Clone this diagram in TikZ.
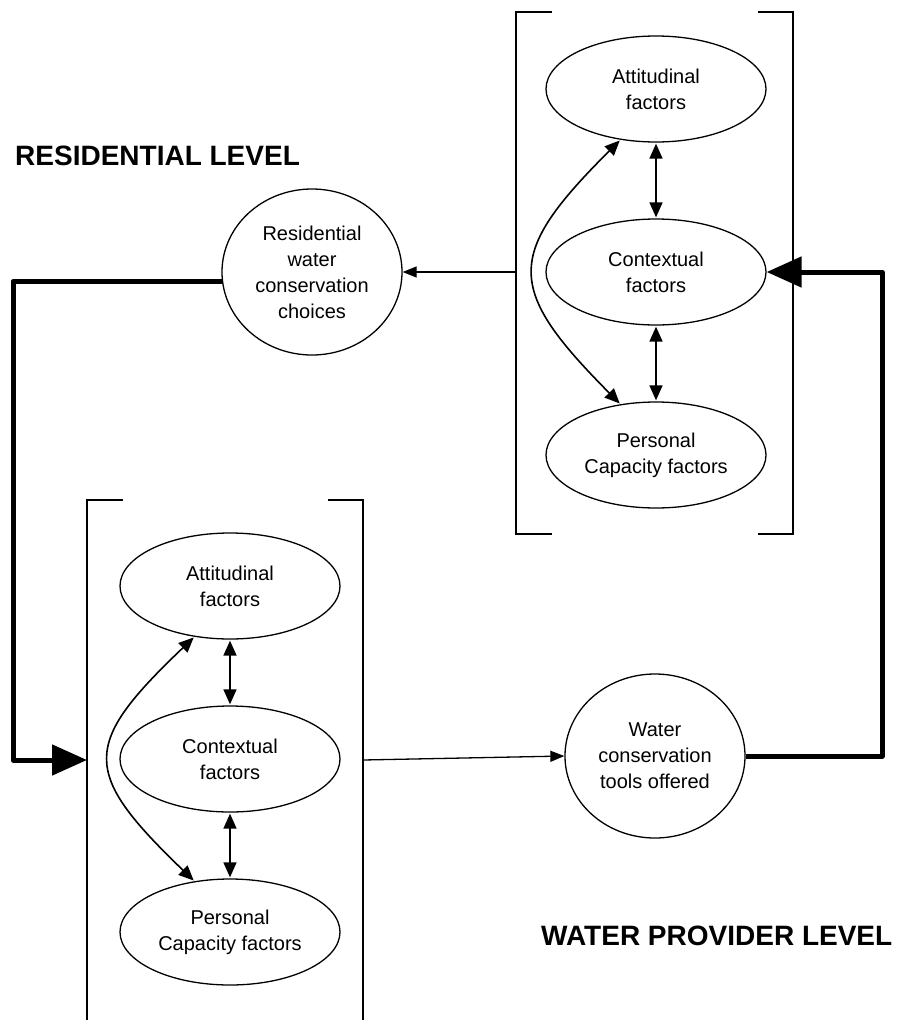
\documentclass[tikz,border=0pt]{standalone}
\usepackage{fontspec}
\setmainfont{Liberation Sans}
\usetikzlibrary{arrows.meta,shapes.geometric}
\tikzset{
  ell/.style={ellipse, draw, line width=1.3pt, minimum width=220pt, minimum height=106pt,
    inner sep=0pt, align=center, font=\fontsize{20}{26}\selectfont},
  circ/.style={ellipse, draw, line width=1.3pt, minimum width=180pt, minimum height=166pt,
    inner sep=0pt, align=center, font=\fontsize{20}{26}\selectfont},
  thinarrow/.style={line width=1.3pt, -{Triangle[length=14pt,width=11pt]}},
  dblarrow/.style={line width=1.6pt, {Triangle[length=15pt,width=13pt]}-{Triangle[length=15pt,width=13pt]}, shorten <=1pt, shorten >=1pt},
  bigarrow/.style={line width=5pt, line join=round, -{Triangle[length=35pt,width=30pt]}},
  bracketline/.style={line width=1.4pt},
  title/.style={font=\fontsize{28}{32}\selectfont\bfseries, inner sep=0pt, anchor=base west}
}
\begin{document}
\begin{tikzpicture}[x=1pt,y=-1pt]
\useasboundingbox (0,0) rectangle (899,1020);
% top bracket
\draw[bracketline] (552,12) -- (516,12) -- (516,534) -- (552,534);
\draw[bracketline] (758,12) -- (793,12) -- (793,534) -- (758,534);
% bottom bracket
\draw[bracketline] (123,500) -- (87,500) -- (87,1022);
\draw[bracketline] (328,500) -- (363,500) -- (363,1022);
% top group
\node[ell] (A1) at (656,89) {Attitudinal\\factors};
\node[ell] (C1) at (656,272) {Contextual\\factors};
\node[ell] (P1) at (656,455) {Personal\\Capacity factors};
% bottom group
\node[ell] (A2) at (230,586) {Attitudinal\\factors};
\node[ell] (C2) at (230,759) {Contextual\\factors};
\node[ell] (P2) at (230,932) {Personal\\Capacity factors};
% circles
\node[circ] (R) at (312,272) {Residential\\water\\conservation\\choices};
\node[circ, minimum height=164pt] (W) at (655,756) {Water\\conservation\\tools offered};
% titles
\node[title] (T1) at (15,165) {RESIDENTIAL LEVEL};
\node[title] (T2) at (541,945) {WATER PROVIDER LEVEL};
% coordinates on brackets and corners
\coordinate (bl1) at (516,272);
\coordinate (br2) at (363,760);
\coordinate (bl2) at (87,760);
\coordinate (k1) at (13,760);
\coordinate (k2) at (882,272);
% inner arrows
\draw[dblarrow] (A1.south) -- (C1.north);
\draw[dblarrow] (C1.south) -- (P1.north);
\draw[dblarrow] (A2.south) -- (C2.north);
\draw[dblarrow] (C2.south) -- (P2.north);
\draw[dblarrow] (A1.235) .. controls (505,255) and (505,288) .. (P1.125);
\draw[dblarrow] (A2.235) .. controls (81,745) and (81,772) .. (P2.125);
% connectors
\draw[thinarrow] (bl1) -- (R.east);
\draw[thinarrow] (br2) -- (W.west);
\draw[bigarrow] (R.186) -| (k1) -- (bl2);
\draw[bigarrow] (W.east) -| (k2) -- (C1.east);
\end{tikzpicture}
\end{document}
